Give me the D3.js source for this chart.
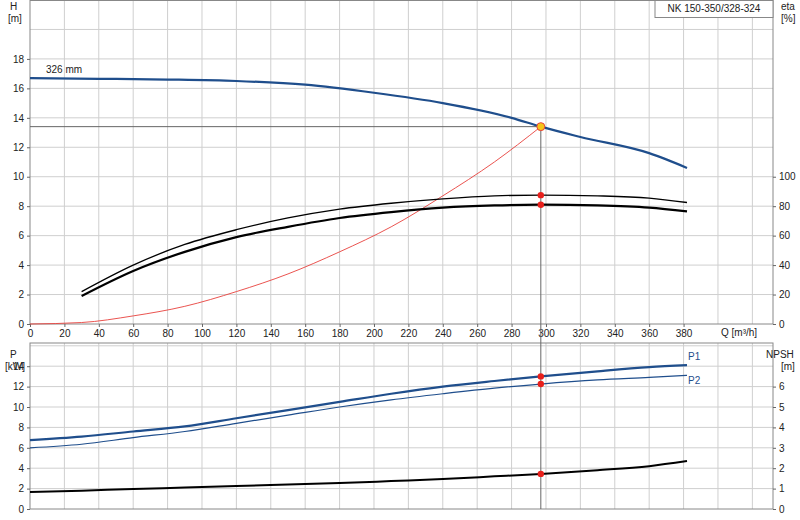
<!DOCTYPE html><html><head><meta charset="utf-8">
<script src="https://cdn.jsdelivr.net/npm/d3@7"></script>
<style>body{margin:0;background:#fff}text{font-family:Arial,"Liberation Sans",sans-serif;font-size:10px;fill:#222}</style></head><body>
<svg id="c" width="800" height="520"></svg>
<script>
const title="NK 150-350/328-324";
const qTicks=[0,20,40,60,80,100,120,140,160,180,200,220,240,260,280,300,320,340,360,380];
const hTicks=[0,2,4,6,8,10,12,14,16,18];
const etaTicks=[0,20,40,60,80,100];
const pTicks=[0,2,4,6,8,10,12,14];
const npshTicks=[0,1,2,3,4,5,6];
const hQ=[0,40,80,120,160,200,240,280,297,320,360,382];
const hV=[16.7,16.65,16.6,16.5,16.25,15.7,15.0,14.0,13.4,12.7,11.6,10.6];
const sysQ=[0,30,60,90,120,150,180,210,240,270,297];
const sysV=[0,0.1,0.55,1.2,2.2,3.4,4.9,6.6,8.7,11.0,13.4];
const etaQ=[30,60,90,120,150,180,210,240,270,297,330,360,382];
const eta1=[19,36,49,59,66,72,76,79,80.5,81,80.5,79,76.5];
const eta2=[22,40,54,64,72,78,82,85,87,87.5,87,85.5,82.5];
const pQ=[0,30,60,90,120,150,180,210,240,270,297,330,360,382];
const p1=[6.75,7.1,7.6,8.1,8.9,9.7,10.5,11.3,12.0,12.55,13.0,13.5,13.9,14.1];
const p2=[6.0,6.35,7.0,7.6,8.4,9.2,10.0,10.7,11.3,11.85,12.25,12.65,12.9,13.1];
const npsh=[0.83,0.9,0.98,1.05,1.13,1.2,1.27,1.37,1.47,1.6,1.72,1.9,2.1,2.35];
const duty={q:297,h:13.4,e1:81,e2:87.5,p1:13.0,p2:12.25,n:1.72};

const svg=d3.select("#c");
const L=30,R=773;
const x=d3.scaleLinear().domain([0,432]).range([L,R]);
const yH=d3.scaleLinear().domain([0,22]).range([324,0]);
const yE=d3.scaleLinear().domain([0,220]).range([324,0]);
const T2=343,B2=509;
const yP=d3.scaleLinear().domain([0,(B2-T2)/10.2]).range([B2,T2]);
const yN=d3.scaleLinear().domain([0,(B2-T2)/20.4]).range([B2,T2]);
const g=svg.append("g");
function grid(y0,y1,ys,vals){
  d3.range(20,432,20).forEach(q=>g.append("line").attr("x1",x(q)).attr("x2",x(q)).attr("y1",y0).attr("y2",y1).attr("stroke","#cfcfcf"));
  vals.forEach(v=>g.append("line").attr("x1",L).attr("x2",R).attr("y1",ys(v)).attr("y2",ys(v)).attr("stroke","#cfcfcf"));
}
grid(0,324,yH,d3.range(2,22,2));
grid(T2,B2,yP,d3.range(2,17,2));
g.append("rect").attr("x",L).attr("y",0.5).attr("width",R-L).attr("height",323.5).attr("fill","none").attr("stroke","#888");
g.append("rect").attr("x",L).attr("y",T2).attr("width",R-L).attr("height",B2-T2).attr("fill","none").attr("stroke","#888");
const ax=(a)=>{const s=svg.append("g").call(a);s.selectAll("path").remove();s.selectAll("line").attr("stroke","#666");return s;};
ax(d3.axisBottom(x).tickValues(qTicks).tickSize(3).tickFormat(d3.format("d"))).attr("transform","translate(0,324)");
ax(d3.axisLeft(yH).tickValues(hTicks).tickSize(3)).attr("transform",`translate(${L},0)`);
ax(d3.axisRight(yE).tickValues(etaTicks).tickSize(3)).attr("transform",`translate(${R},0)`);
ax(d3.axisLeft(yP).tickValues(pTicks).tickSize(3)).attr("transform",`translate(${L},0)`);
ax(d3.axisRight(yN).tickValues(npshTicks).tickSize(3)).attr("transform",`translate(${R},0)`);
const t=(X,Y,s,a)=>svg.append("text").attr("x",X).attr("y",Y).attr("text-anchor",a||"start").text(s);
t(10,10,"H");t(8,22,"[m]");t(781,10,"eta");t(781,22,"[%]");
t(721,336,"Q [m³/h]");
t(10,358,"P");t(5,370,"[kW]");t(766,358,"NPSH");t(781,370,"[m]");
t(46,73,"326 mm");
svg.append("rect").attr("x",655).attr("y",0.5).attr("width",118).attr("height",17).attr("fill","#fff").attr("stroke","#888");
t(714,12,title,"middle");
t(688,360,"P1").style("fill","#1f4e8c");t(688,384,"P2").style("fill","#1f4e8c");
svg.append("line").attr("x1",L).attr("x2",x(duty.q)).attr("y1",yH(duty.h)).attr("y2",yH(duty.h)).attr("stroke","#666");
svg.append("line").attr("x1",x(duty.q)).attr("x2",x(duty.q)).attr("y1",yH(duty.h)).attr("y2",B2).attr("stroke","#666");
const line=(qs,vs,ys,col,w)=>svg.append("path").attr("d",d3.line().curve(d3.curveMonotoneX).x((d,i)=>x(qs[i])).y(d=>ys(d))(vs)).attr("fill","none").attr("stroke",col).attr("stroke-width",w);
line(sysQ,sysV,yH,"#e8413c",0.9);
line(hQ,hV,yH,"#1f4e8c",2.2);
line(etaQ,eta2,yE,"#000",1.3);
line(etaQ,eta1,yE,"#000",2.2);
line(pQ,p1,yP,"#1f4e8c",2.2);
line(pQ,p2,yP,"#1f4e8c",1.2);
line(pQ,npsh,yN,"#000",2);
[yE(duty.e1),yE(duty.e2),yP(duty.p1),yP(duty.p2),yN(duty.n)].forEach(cy=>svg.append("circle").attr("cx",x(duty.q)).attr("cy",cy).attr("r",3.2).attr("fill","#e8201c"));
svg.append("circle").attr("cx",x(duty.q)).attr("cy",yH(duty.h)).attr("r",4).attr("fill","#f5c518").attr("stroke","#e8413c");
</script></body></html>
